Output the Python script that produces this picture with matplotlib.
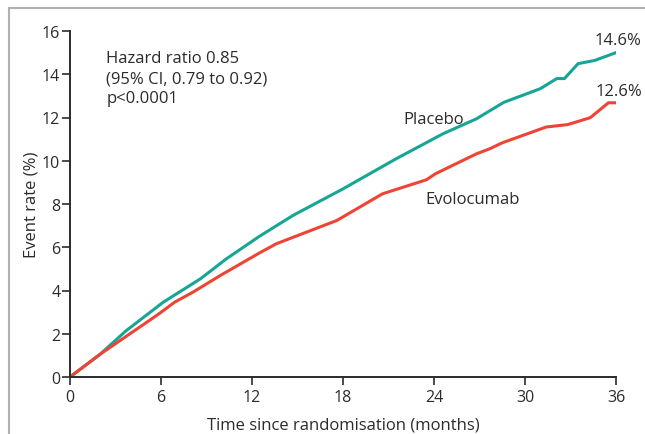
import matplotlib.pyplot as plt
from matplotlib.lines import Line2D

plt.rcParams['font.family'] = ['Open Sans', 'DejaVu Sans']

# Kaplan-Meier style curves (months, event rate %)
placebo_t = [0, 2.0, 3.7, 6.15, 8.6, 10.3, 12.5, 14.7, 18.0, 21.5, 24.6, 26.8, 28.6, 31.0, 32.1, 32.6, 33.5, 34.6, 36.0]
placebo_y = [0, 1.06, 2.14, 3.46, 4.54, 5.46, 6.51, 7.47, 8.70, 10.09, 11.25, 11.94, 12.70, 13.33, 13.80, 13.80, 14.49, 14.64, 15.0]

evolo_t = [0, 2.0, 5.7, 6.15, 6.9, 8.1, 9.9, 12.5, 13.6, 17.6, 20.6, 23.5, 24.1, 26.8, 27.7, 28.5, 31.4, 32.8, 34.3, 35.5, 36.0]
evolo_y = [0, 1.06, 2.84, 3.07, 3.46, 3.92, 4.69, 5.74, 6.16, 7.24, 8.47, 9.12, 9.40, 10.32, 10.56, 10.83, 11.56, 11.67, 11.99, 12.68, 12.68]

xticks = [0, 6, 12, 18, 24, 30, 36]
yticks = [0, 2, 4, 6, 8, 10, 12, 14, 16]

teal = '#17a596'
red = '#ee4435'
dark = '#2b2b2b'

fig = plt.figure(figsize=(6.45, 4.35), dpi=100)
ax = fig.add_axes([70/645, 57/435, 546/645, 346/435])

ax.plot(placebo_t, placebo_y, color=teal, lw=2.2, solid_joinstyle='miter')
ax.plot(evolo_t, evolo_y, color=red, lw=2.2, solid_joinstyle='miter')

ax.set_xlim(0, 36)
ax.set_ylim(0, 16)
ax.set_xticks(xticks)
ax.set_yticks(yticks)
for s in ['top', 'right']:
    ax.spines[s].set_visible(False)
for s in ['left', 'bottom']:
    ax.spines[s].set_color(dark)
    ax.spines[s].set_linewidth(1.4)
ax.tick_params(colors=dark, labelcolor=dark, labelsize=11.5, length=6, width=1.2, pad=1)
ax.tick_params(axis='x', pad=3)

ax.set_xlabel('Time since randomisation (months)', fontsize=12, color=dark, labelpad=8)
ax.set_ylabel('Event rate (%)', fontsize=12, color=dark, labelpad=2)

ax.text(2.4, 15.1, 'Hazard ratio 0.85\n(95% CI, 0.79 to 0.92)\np<0.0001',
        fontsize=12, color=dark, va='top', ha='left', linespacing=1.3)
ax.text(22.0, 11.95, 'Placebo', fontsize=12, color=dark, va='center')
ax.text(23.4, 8.25, 'Evolocumab', fontsize=12, color=dark, va='center')
ax.text(37.7, 15.2, '14.6%', fontsize=12, color=dark, va='bottom', ha='right', clip_on=False)
ax.text(37.7, 12.85, '12.6%', fontsize=12, color=dark, va='bottom', ha='right', clip_on=False)

# light frame on left and top
fig.add_artist(Line2D([9/645, 9/645], [0, 1 - 9/435], color='#b0b0b0', lw=1.5, transform=fig.transFigure))
fig.add_artist(Line2D([9/645, 1], [1 - 9/435, 1 - 9/435], color='#b0b0b0', lw=1.5, transform=fig.transFigure))

fig.savefig('out.png', dpi=100)
